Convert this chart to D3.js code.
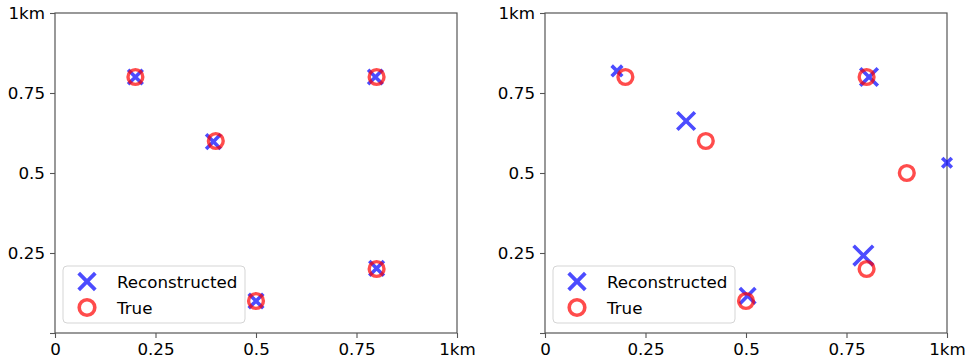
<!DOCTYPE html>
<html>
<head>
<meta charset="utf-8">
<script src="https://cdn.jsdelivr.net/npm/d3@7"></script>
<style>
  body { margin: 0; background: #fff; }
  text { font-family: "DejaVu Sans", sans-serif; }
</style>
</head>
<body>
<svg id="chart"></svg>
<script>
// tick labels
var tickVals = [0, 0.25, 0.5, 0.75, 1]
var xTickLabels = ['0', '0.25', '0.5', '0.75', '1km']
var yTickLabels = ['', '0.25', '0.5', '0.75', '1km']

// left panel
var trueX1 = [0.2, 0.4, 0.8, 0.5, 0.8]
var trueY1 = [0.8, 0.6, 0.8, 0.1, 0.2]
var recX1 = [0.2, 0.394, 0.797, 0.5, 0.8]
var recY1 = [0.8, 0.598, 0.8, 0.1, 0.202]
var recSize1 = [17, 17, 17, 17, 17]

// right panel
var trueX2 = [0.2, 0.4, 0.8, 0.9, 0.5, 0.8]
var trueY2 = [0.8, 0.6, 0.8, 0.5, 0.1, 0.2]
var recX2 = [0.179, 0.351, 0.806, 1.0, 0.504, 0.792]
var recY2 = [0.819, 0.6625, 0.8, 0.532, 0.116, 0.242]
var recSize2 = [13, 20, 20, 12, 18, 22]

var legendLabels = ['Reconstructed', 'True']

var width = 970, height = 364
var svg = d3.select('#chart')
    .attr('width', width)
    .attr('height', height)

var blue = '#0000ff', red = '#ff0000', alpha = 0.7

function xPath(s) {
    var a = s / 2 - 1.2
    return 'M' + (-a) + ',' + (-a) + 'L' + a + ',' + a + 'M' + (-a) + ',' + a + 'L' + a + ',' + (-a)
}

function drawPanel(left, right, recX, recY, recSize, trueX, trueY) {
    var xScale = d3.scaleLinear().domain([0, 1]).range([left, right])
    var yScale = d3.scaleLinear().domain([0, 1]).range([333, 13])

    var g = svg.append('g')

    // ticks
    var xAxis = d3.axisBottom(xScale)
        .tickValues(tickVals)
        .tickSize(5)
        .tickPadding(5)
        .tickFormat(function (d, i) { return xTickLabels[i] })
    var yAxis = d3.axisLeft(yScale)
        .tickValues(tickVals)
        .tickSize(5)
        .tickPadding(5)
        .tickFormat(function (d, i) { return yTickLabels[i] })

    var gx = g.append('g').attr('transform', 'translate(0,333)').call(xAxis)
    var gy = g.append('g').attr('transform', 'translate(' + left + ',0)').call(yAxis)
    ;[gx, gy].forEach(function (a) {
        a.select('.domain').remove()
        a.selectAll('line').attr('stroke', '#555').attr('stroke-width', 1.1)
        a.selectAll('text')
            .attr('fill', '#000')
            .style('font-size', '16.7px')
            .style('font-family', '"DejaVu Sans", sans-serif')
    })

    // frame
    g.append('rect')
        .attr('x', left)
        .attr('y', 13)
        .attr('width', right - left)
        .attr('height', 320)
        .attr('fill', 'none')
        .attr('stroke', '#555')
        .attr('stroke-width', 1.2)

    // reconstructed
    g.selectAll('.rec')
        .data(recX)
        .enter()
        .append('path')
        .attr('class', 'rec')
        .attr('d', function (d, i) { return xPath(recSize[i]) })
        .attr('transform', function (d, i) {
            return 'translate(' + xScale(d) + ',' + yScale(recY[i]) + ')'
        })
        .attr('fill', 'none')
        .attr('stroke', blue)
        .attr('stroke-opacity', alpha)
        .attr('stroke-width', 3.6)

    // true
    g.selectAll('.tru')
        .data(trueX)
        .enter()
        .append('circle')
        .attr('class', 'tru')
        .attr('cx', function (d) { return xScale(d) })
        .attr('cy', function (d, i) { return yScale(trueY[i]) })
        .attr('r', 7.4)
        .attr('fill', 'none')
        .attr('stroke', red)
        .attr('stroke-opacity', alpha)
        .attr('stroke-width', 3.4)

    // legend
    var lx = left + 8, ly = 266
    var lg = g.append('g')
    lg.append('rect')
        .attr('x', lx)
        .attr('y', ly)
        .attr('width', 182)
        .attr('height', 57)
        .attr('rx', 4)
        .attr('fill', '#fff')
        .attr('fill-opacity', 0.8)
        .attr('stroke', '#d5d5d5')
        .attr('stroke-width', 1)
    lg.append('path')
        .attr('d', xPath(19))
        .attr('transform', 'translate(' + (lx + 24) + ',' + (ly + 15.5) + ')')
        .attr('fill', 'none')
        .attr('stroke', blue)
        .attr('stroke-opacity', alpha)
        .attr('stroke-width', 3.8)
    lg.append('circle')
        .attr('cx', lx + 24)
        .attr('cy', ly + 41.5)
        .attr('r', 7.8)
        .attr('fill', 'none')
        .attr('stroke', red)
        .attr('stroke-opacity', alpha)
        .attr('stroke-width', 3.6)
    lg.selectAll('.lt')
        .data(legendLabels)
        .enter()
        .append('text')
        .attr('class', 'lt')
        .attr('x', lx + 54)
        .attr('y', function (d, i) { return ly + 21.5 + i * 26 })
        .style('font-size', '16.7px')
        .text(function (d) { return d })
}

drawPanel(55, 457, recX1, recY1, recSize1, trueX1, trueY1)
drawPanel(545, 947, recX2, recY2, recSize2, trueX2, trueY2)
</script>
</body>
</html>
